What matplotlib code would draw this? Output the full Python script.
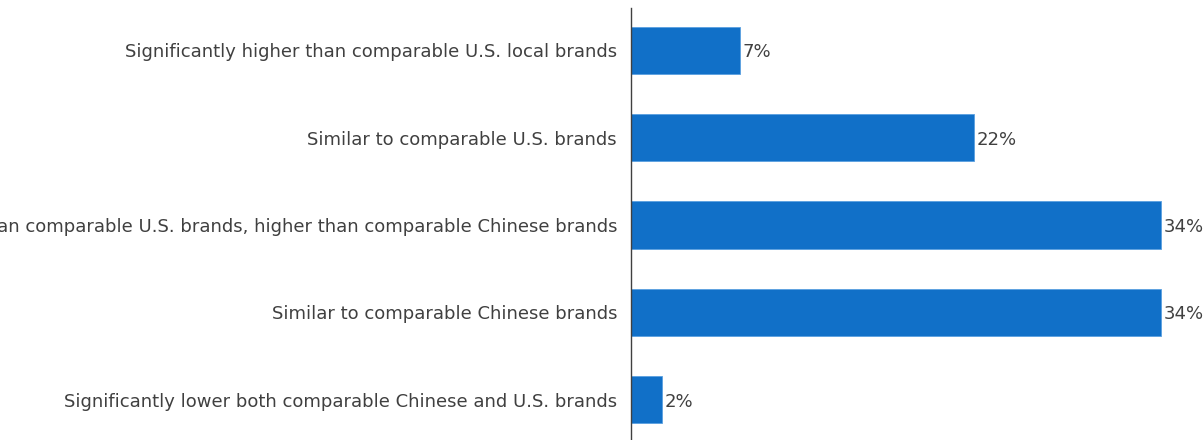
import matplotlib
matplotlib.use("Agg")
import matplotlib.pyplot as plt

categories = [
    "Significantly higher than comparable U.S. local brands",
    "Similar to comparable U.S. brands",
    "Lower than comparable U.S. brands, higher than comparable Chinese brands",
    "Similar to comparable Chinese brands",
    "Significantly lower both comparable Chinese and U.S. brands",
]
values = [7, 22, 34, 34, 2]

BAR_COLOR = "#1170C8"
TEXT_COLOR = "#404040"
plt.rcParams["font.family"] = ["DejaVu Sans"]

fig = plt.figure(figsize=(12.04, 4.40), dpi=100)
ax = fig.add_axes([631 / 1204, 0.0, 1 - 631 / 1204, 1 - 8 / 440])

pos = list(range(len(categories)))
ax.barh(pos, values, height=0.54, color=BAR_COLOR, edgecolor="#5aa0e0", linewidth=0.6)

for p, v in zip(pos, values):
    ax.text(v + 0.15, p, f"{v}%", va="center_baseline", ha="left", fontsize=13, color=TEXT_COLOR)

ax.set_yticks(pos)
ax.set_yticklabels(categories, fontsize=13, color=TEXT_COLOR, va="center_baseline")
ax.tick_params(axis="y", length=0, pad=10)
ax.set_xticks([])
ax.set_xlim(0, (1204 - 631) / 15.59)
ax.set_ylim(4.464, -0.487)

for side in ("top", "right", "bottom"):
    ax.spines[side].set_visible(False)
ax.spines["left"].set_color("#404040")
ax.spines["left"].set_linewidth(1.0)

fig.savefig("out.png", dpi=100, facecolor="white")
